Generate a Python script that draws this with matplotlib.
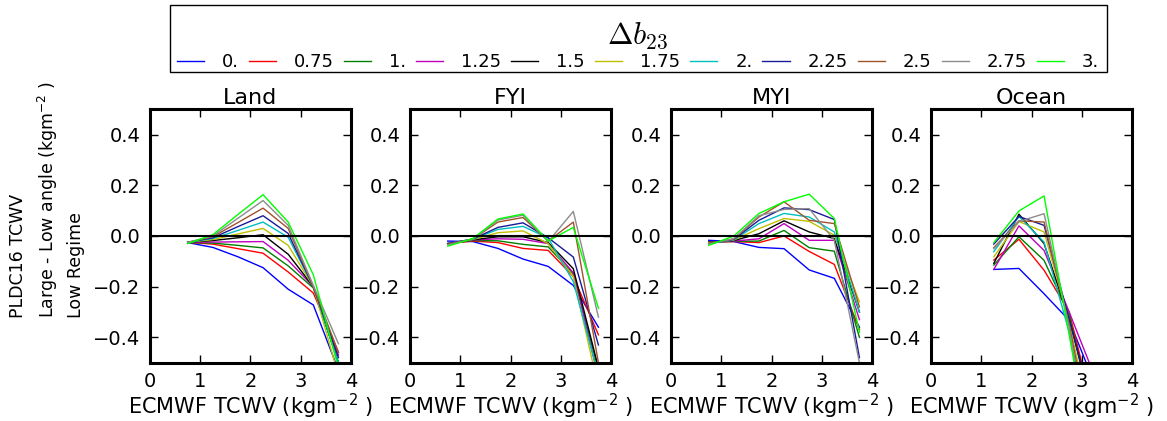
import matplotlib
matplotlib.use("Agg")
import matplotlib.pyplot as plt
from matplotlib.font_manager import FontProperties
from matplotlib.patches import Rectangle

# Delta b23 values and line colours
b23_labels = ["0.", "0.75", "1.", "1.25", "1.5", "1.75", "2.", "2.25", "2.5", "2.75", "3."]
colors = ["#0000ff", "#ff0000", "#008000", "#bf00bf", "#000000", "#bfbf00",
          "#00bfbf", "#1a1a99", "#a0522d", "#8c8c8c", "#00ff00"]

panels = ["Land", "FYI", "MYI", "Ocean"]

x_land = [0.75, 1.25, 1.75, 2.25, 2.75, 3.25, 3.75]
land = [
    [-0.026, -0.045, -0.082, -0.125, -0.210, -0.272, -0.53],
    [-0.025, -0.032, -0.050, -0.068, -0.142, -0.225, -0.458],
    [-0.025, -0.028, -0.037, -0.047, -0.118, -0.205, -0.50],
    [-0.025, -0.024, -0.023, -0.022, -0.096, -0.200, -0.47],
    [-0.025, -0.018, -0.007, 0.005, -0.072, -0.200, -0.50],
    [-0.025, -0.014, 0.008, 0.030, -0.037, -0.200, -0.55],
    [-0.025, -0.010, 0.022, 0.055, -0.005, -0.200, -0.50],
    [-0.025, -0.007, 0.037, 0.080, 0.010, -0.200, -0.48],
    [-0.025, -0.003, 0.053, 0.110, 0.030, -0.200, -0.46],
    [-0.025, 0.000, 0.070, 0.140, 0.042, -0.195, -0.425],
    [-0.030, 0.005, 0.085, 0.163, 0.055, -0.153, -0.52],
]

x_fyi = [0.75, 1.25, 1.75, 2.25, 2.75, 3.25, 3.75]
fyi = [
    [-0.020, -0.022, -0.049, -0.091, -0.120, -0.195, -0.36],
    [-0.030, -0.020, -0.026, -0.049, -0.057, -0.160, -0.39],
    [-0.030, -0.018, -0.019, -0.033, -0.043, -0.150, -0.53],
    [-0.030, -0.016, -0.011, -0.013, -0.030, -0.145, -0.56],
    [-0.030, -0.015, -0.003, -0.003, -0.026, -0.129, -0.52],
    [-0.030, -0.014, 0.013, 0.020, -0.030, -0.160, -0.60],
    [-0.030, -0.013, 0.026, 0.038, -0.008, -0.180, -0.55],
    [-0.030, -0.012, 0.034, 0.052, -0.007, -0.083, -0.43],
    [-0.032, -0.012, 0.055, 0.073, -0.020, 0.055, -0.50],
    [-0.035, -0.012, 0.063, 0.082, -0.022, 0.097, -0.32],
    [-0.040, -0.010, 0.067, 0.087, -0.020, 0.034, -0.285],
]

x_myi = [0.75, 1.25, 1.75, 2.25, 2.75, 3.25, 3.75]
myi = [
    [-0.017, -0.022, -0.045, -0.050, -0.134, -0.167, -0.36],
    [-0.025, -0.022, -0.026, 0.000, -0.061, -0.112, -0.37],
    [-0.025, -0.021, -0.020, 0.022, -0.046, -0.060, -0.40],
    [-0.025, -0.020, -0.011, 0.049, -0.017, -0.017, -0.33],
    [-0.025, -0.018, 0.009, 0.060, 0.016, -0.010, -0.30],
    [-0.027, -0.016, 0.029, 0.069, 0.058, 0.003, -0.26],
    [-0.030, -0.015, 0.049, 0.089, 0.075, 0.016, -0.30],
    [-0.030, -0.013, 0.062, 0.111, 0.104, 0.065, -0.48],
    [-0.030, -0.012, 0.075, 0.135, 0.062, 0.049, -0.28],
    [-0.032, -0.010, 0.080, 0.105, 0.108, -0.017, -0.50],
    [-0.037, 0.000, 0.089, 0.135, 0.165, 0.069, -0.38],
]

x_ocean = [1.25, 1.75, 2.25, 2.75, 3.25]
ocean = [
    [-0.132, -0.128, -0.228, -0.333, -0.58],
    [-0.095, -0.013, -0.135, -0.300, -0.70],
    [-0.115, -0.003, -0.096, -0.310, -0.75],
    [-0.132, 0.040, -0.057, -0.300, -0.55],
    [-0.108, 0.086, -0.030, -0.330, -0.70],
    [-0.082, 0.057, 0.016, -0.340, -0.80],
    [-0.062, 0.077, -0.024, -0.380, -0.85],
    [-0.032, 0.077, 0.042, -0.330, -0.70],
    [-0.046, 0.060, 0.055, -0.350, -0.85],
    [-0.050, 0.057, 0.088, -0.360, -1.00],
    [-0.026, 0.099, 0.158, -0.390, -0.95],
]

xs = [x_land, x_fyi, x_myi, x_ocean]
ys = [land, fyi, myi, ocean]

W, H = 1167, 421
fig = plt.figure(figsize=(W / 100, H / 100), dpi=100)

lefts_px = [150, 410, 671, 931]
ax_w, ax_b, ax_h = 201 / W, (H - 362.7) / H, 253.4 / H

handles = []
for i, (name, xv, series) in enumerate(zip(panels, xs, ys)):
    ax = fig.add_axes([lefts_px[i] / W, ax_b, ax_w, ax_h])
    for vals, col, lab in zip(series, colors, b23_labels):
        ln, = ax.plot(xv, vals, color=col, lw=1.0, label=lab)
        if i == 0:
            handles.append(ln)
    ax.axhline(0, color="black", lw=1.5)
    ax.set_xlim(0, 4)
    ax.set_ylim(-0.5, 0.5)
    ax.set_xticks([0, 1, 2, 3, 4])
    ax.set_yticks([-0.4, -0.2, 0.0, 0.2, 0.4])
    ax.set_yticklabels(["\u22120.4", "\u22120.2", "0.0", "0.2", "0.4"])
    ax.tick_params(direction="in", top=True, right=True, length=6, width=1,
                   labelsize=14, pad=7)
    for sp in ax.spines.values():
        sp.set_linewidth(2.2)
    ax.set_title(name, fontsize=16, pad=4)
    ax.set_xlabel("ECMWF TCWV (kgm$^{-2}$ )", fontsize=15, labelpad=0)

fig.text(47 / W, 1 - 200 / H,
         "PLDC16 TCWV\nLarge - Low angle (kgm$^{-2}$ )\nLow Regime",
         rotation=90, ha="center", va="center", multialignment="left",
         fontsize=12.5, linespacing=1.5)

# legend box outline
fig.add_artist(Rectangle((170 / W, 1 - 72 / H), (1107 - 170) / W, 67 / H,
                         transform=fig.transFigure, fill=False,
                         edgecolor="black", lw=1.0))

leg = fig.legend(handles=handles, loc="upper center",
                 bbox_to_anchor=(638 / W, 1 - 12 / H), borderaxespad=0, ncol=11,
                 fontsize=13, handlelength=1.5, handletextpad=1.0,
                 columnspacing=0.55, frameon=False, borderpad=0.45,
                 labelspacing=0.15,
                 title=r"$\Delta b_{23}$",
                 title_fontproperties=FontProperties(size=22, math_fontfamily="cm"))

fig.savefig("out.png", dpi=100)
